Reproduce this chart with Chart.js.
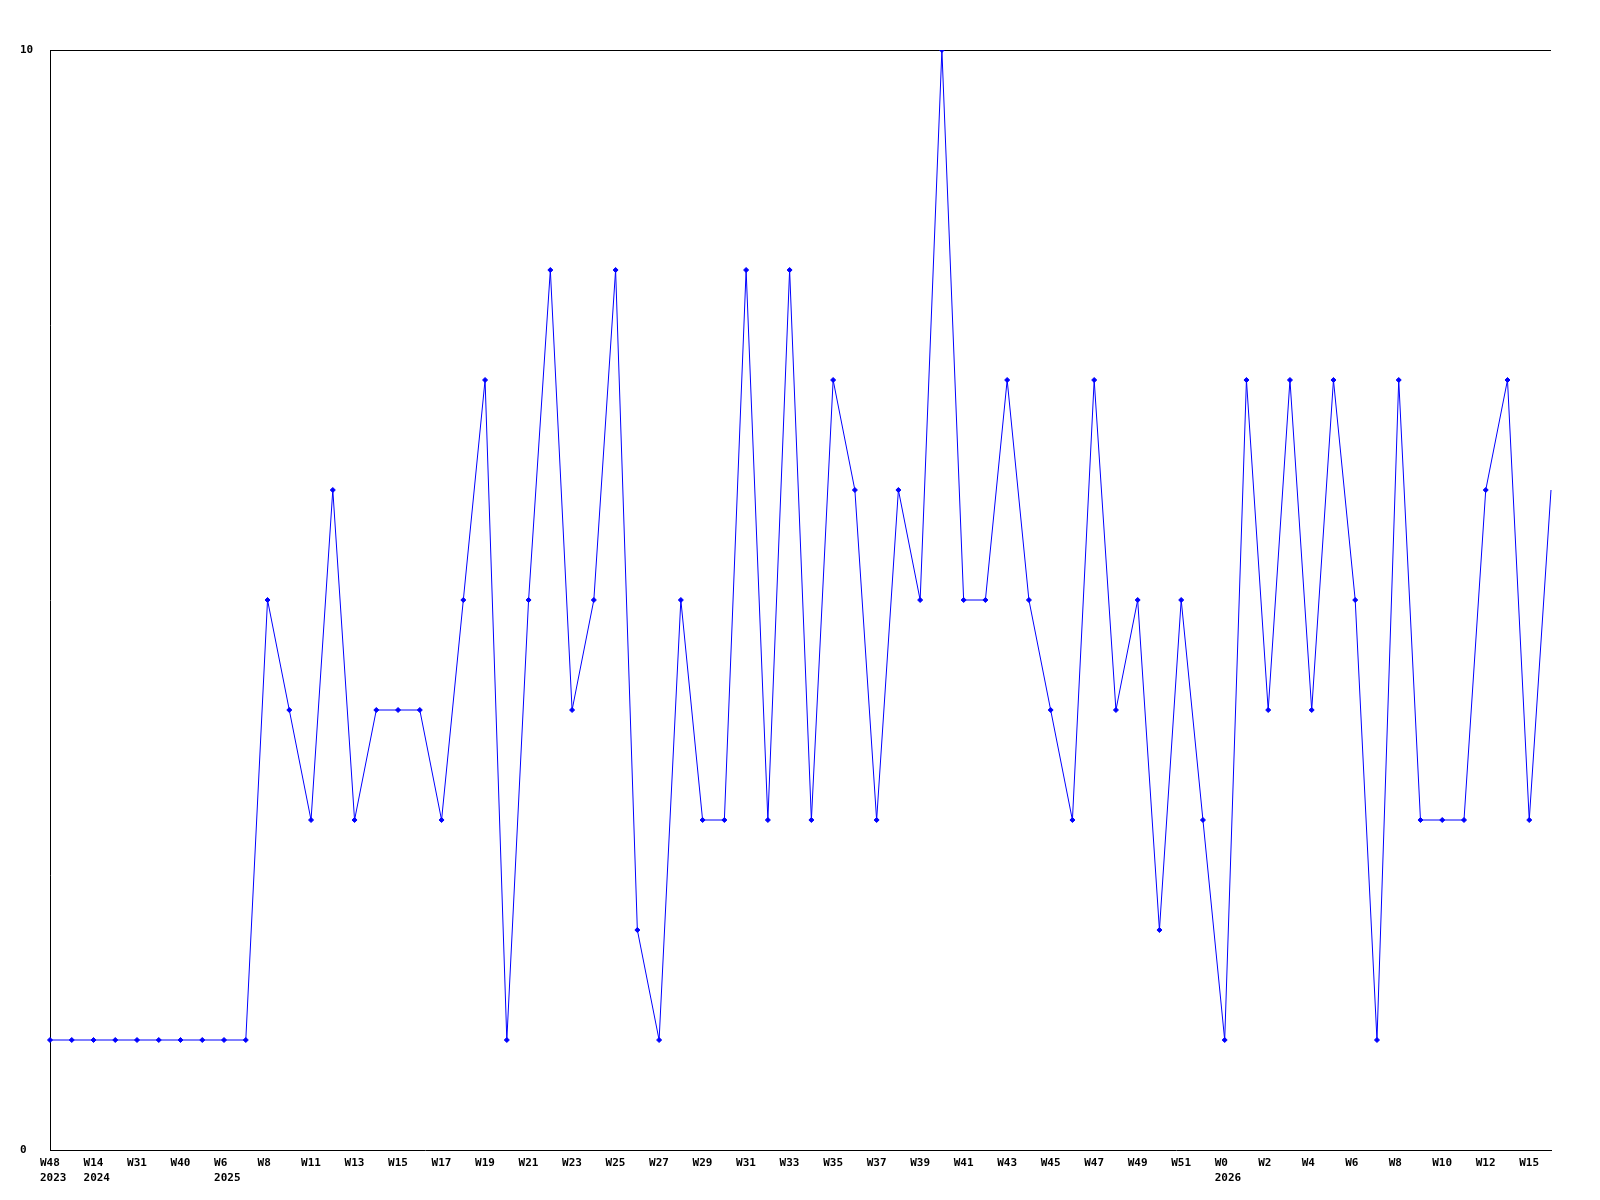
<!DOCTYPE html>
<html>
<head>
<meta charset="utf-8">
<script src="https://cdn.jsdelivr.net/npm/chart.js@4/dist/chart.umd.min.js"></script>
<style>
html,body{margin:0;padding:0;background:#fff;}
#c{display:block;}
</style>
</head>
<body>
<canvas id="c" width="1600" height="1200"></canvas>
<script>
// Week labels (every second one is shown on the axis)
const weekLabels = [
  ['W48','2023'], 'W1', ['W14','2024'], 'W22', 'W31', 'W35', 'W40', 'W50', ['W6','2025'], 'W7',
  'W8', 'W10', 'W11', 'W12', 'W13', 'W14', 'W15', 'W16', 'W17', 'W18',
  'W19', 'W20', 'W21', 'W22', 'W23', 'W24', 'W25', 'W26', 'W27', 'W28',
  'W29', 'W30', 'W31', 'W32', 'W33', 'W34', 'W35', 'W36', 'W37', 'W38',
  'W39', 'W40', 'W41', 'W42', 'W43', 'W44', 'W45', 'W46', 'W47', 'W48',
  'W49', 'W50', 'W51', 'W52', ['W0','2026'], 'W1', 'W2', 'W3', 'W4', 'W5',
  'W6', 'W7', 'W8', 'W9', 'W10', 'W11', 'W12', 'W13', 'W15', 'W16'
];
const weeklyCounts = [
  1, 1, 1, 1, 1, 1, 1, 1, 1, 1,
  5, 4, 3, 6, 3, 4, 4, 4, 3, 5,
  7, 1, 5, 8, 4, 5, 8, 2, 1, 5,
  3, 3, 8, 3, 8, 3, 7, 6, 3, 6,
  5, 10, 5, 5, 7, 5, 4, 3, 7, 4,
  5, 2, 5, 3, 1, 7, 4, 7, 4, 7,
  5, 1, 7, 3, 3, 3, 6, 7, 3, 6
];
const yTicks = [0, 10];

const fontSpec = {family: "'DejaVu Sans Mono', monospace", size: 11, weight: 'bold', lineHeight: '15px'};

new Chart(document.getElementById('c'), {
  type: 'line',
  data: {
    labels: weekLabels,
    datasets: [{
      data: weeklyCounts,
      borderColor: '#0000ff',
      backgroundColor: '#0000ff',
      borderWidth: 1,
      tension: 0,
      pointStyle: 'rectRot',
      pointRadius: ctx => ctx.dataIndex === weeklyCounts.length - 1 ? 0 : 2.5,
      pointBorderWidth: 1,
      fill: false
    }]
  },
  options: {
    responsive: false,
    animation: false,
    layout: {padding: {top: 50, right: 49, bottom: 0, left: 20}},
    plugins: {legend: {display: false}, tooltip: {enabled: false}},
    scales: {
      x: {
        offset: false,
        grid: {display: false, drawTicks: false},
        border: {display: true, color: '#000', width: 1},
        ticks: {
          autoSkip: false,
          maxRotation: 0,
          minRotation: 0,
          align: 'start',
          labelOffset: -10,
          padding: 6,
          color: '#000',
          font: fontSpec,
          callback: function(value, index) {
            return index % 2 === 0 ? this.getLabelForValue(value) : '';
          }
        },
        afterFit: s => { s.height = 50; }
      },
      y: {
        min: yTicks[0],
        max: yTicks[1],
        afterBuildTicks: s => { s.ticks = yTicks.map(v => ({value: v})); },
        grid: {
          display: true,
          drawTicks: false,
          color: ctx => (ctx.tick && ctx.tick.value === yTicks[1]) ? '#000' : 'rgba(0,0,0,0)',
          lineWidth: 1
        },
        border: {display: true, color: '#000', width: 1},
        ticks: {
          padding: 4,
          crossAlign: 'far',
          color: '#000',
          font: {family: "'DejaVu Sans Mono', monospace", size: 11, weight: 'bold'}
        },
        afterFit: s => { s.width = 30; }
      }
    }
  }
});
</script>
</body>
</html>
